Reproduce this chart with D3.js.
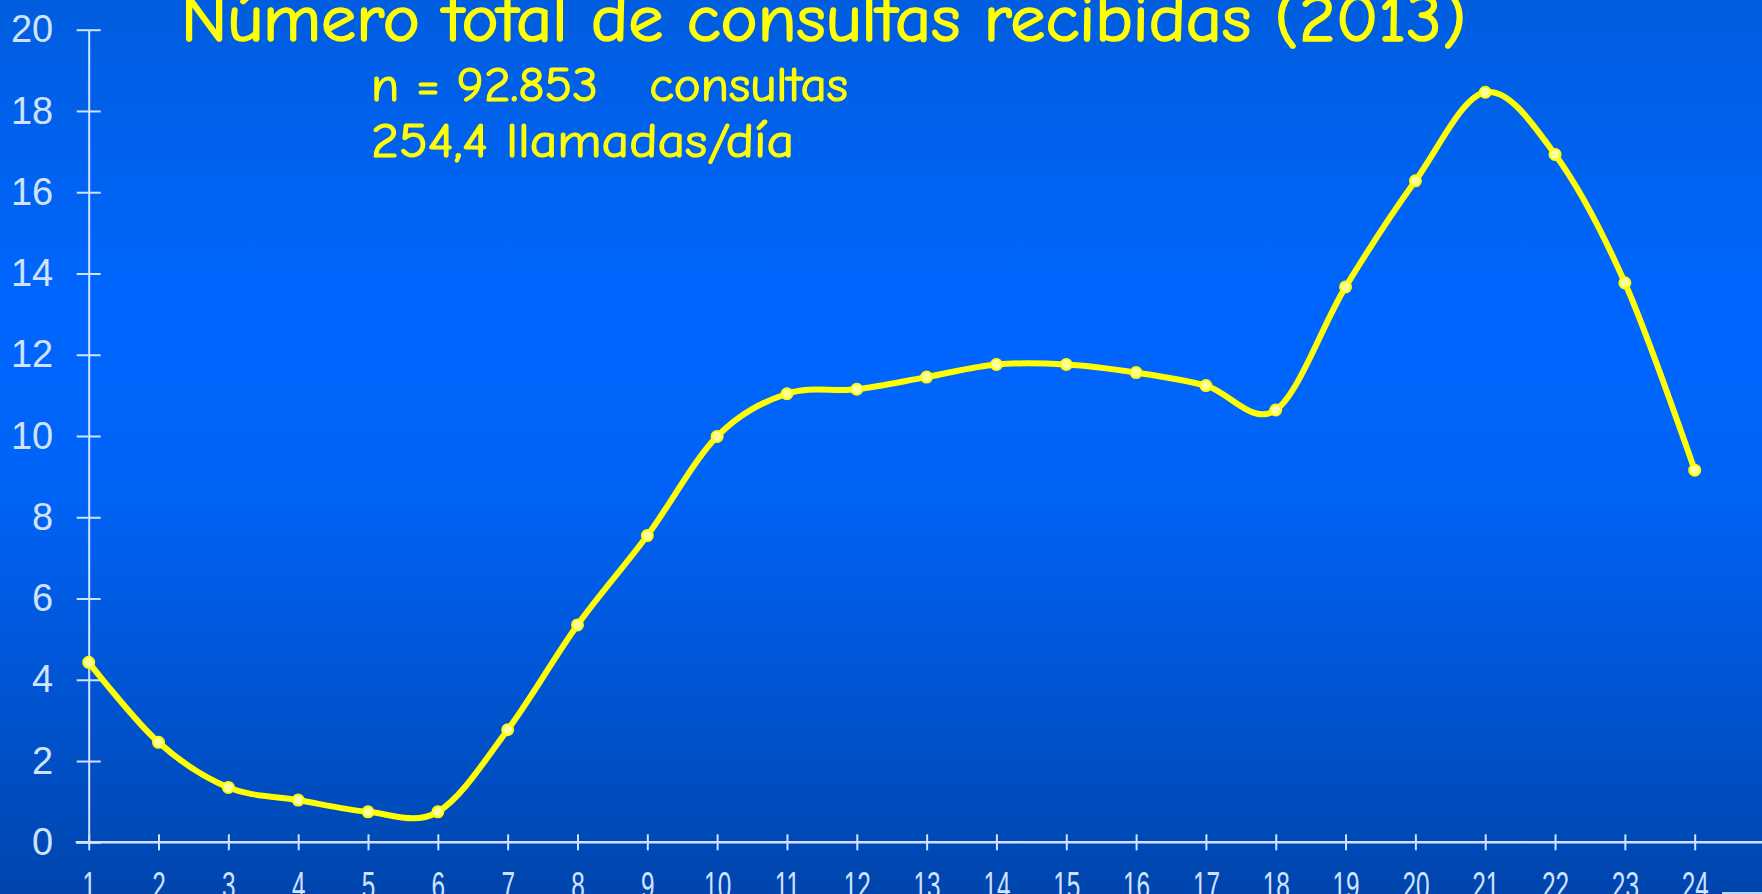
<!DOCTYPE html>
<html>
<head>
<meta charset="utf-8">
<script src="https://cdn.jsdelivr.net/npm/d3@7"></script>
<style>
  html, body { margin: 0; padding: 0; overflow: hidden; }
  svg { display: block; }
</style>
</head>
<body>
<svg id="chart"></svg>
<script>
const width = 1762;
const height = 894;

// hours of the day and share of calls (%)
const hours = d3.range(1, 25);
const consultas = [4.43, 2.46, 1.35, 1.04, 0.75, 0.75, 2.77, 5.35, 7.55, 9.99, 11.04, 11.15,
	11.45, 11.76, 11.76, 11.56, 11.24, 10.64, 13.67, 16.28, 18.46, 16.93, 13.77, 9.16];
const yTicks = [0, 2, 4, 6, 8, 10, 12, 14, 16, 18, 20];

const title = 'Número total de consultas recibidas (2013)';
const subtitle1 = 'n = 92.853   consultas';
const subtitle2 = '254,4 llamadas/día';

const svg = d3.select('#chart').attr('width', width).attr('height', height);

// background
const defs = svg.append('defs');
const grad = defs.append('linearGradient')
	.attr('id', 'bg')
	.attr('x1', 0).attr('y1', 0).attr('x2', 0).attr('y2', 1);
grad.append('stop').attr('offset', '0%').attr('stop-color', '#005ddf');
grad.append('stop').attr('offset', '35%').attr('stop-color', '#0066ff');
grad.append('stop').attr('offset', '55%').attr('stop-color', '#0063f6');
grad.append('stop').attr('offset', '100%').attr('stop-color', '#0045ad');
svg.append('rect').attr('width', width).attr('height', height).attr('fill', 'url(#bg)');

const x = d3.scaleLinear().domain([1, 24]).range([88.7, 1694.7]);
const y = d3.scaleLinear().domain([0, 20]).range([842.3, 29.7]);

const axisColor = '#cfe3ff';

// y axis
const yAxis = svg.append('g')
	.attr('transform', `translate(${x(1)},0)`)
	.call(d3.axisLeft(y).tickValues(yTicks).tickSize(12).tickSizeOuter(0));
yAxis.select('.domain').attr('stroke', axisColor).attr('stroke-width', 2);
yAxis.selectAll('.tick line').attr('x1', -12).attr('x2', 12)
	.attr('stroke', axisColor).attr('stroke-width', 2);
yAxis.selectAll('.tick text')
	.attr('x', -35.5)
	.attr('fill', axisColor)
	.attr('font-family', 'Arial, "Liberation Sans", sans-serif')
	.attr('font-size', 38);

// x axis
const xAxis = svg.append('g')
	.attr('transform', `translate(0,${y(0)})`)
	.call(d3.axisBottom(x).tickValues(hours).tickFormat(d3.format('d')).tickSize(8).tickSizeOuter(0));
xAxis.select('.domain').remove();
xAxis.insert('line', ':first-child')
	.attr('x1', x(1) - 13).attr('x2', width)
	.attr('stroke', axisColor).attr('stroke-width', 2.5);
xAxis.selectAll('.tick line').attr('y1', -8).attr('y2', 8)
	.attr('stroke', axisColor).attr('stroke-width', 2);
xAxis.selectAll('.tick text')
	.attr('y', 57).attr('dy', 0)
	.attr('transform', 'scale(0.64,1)')
	.attr('fill', axisColor)
	.attr('font-family', 'Arial, "Liberation Sans", sans-serif')
	.attr('font-size', 38);

svg.append('rect')
	.attr('x', 1722).attr('y', 892).attr('width', 40).attr('height', 2)
	.attr('fill', '#bcd8f6');

// line
const line = d3.line()
	.x((d, i) => x(hours[i]))
	.y((d) => y(d))
	.curve(d3.curveCardinal.tension(0));

svg.append('path')
	.datum(consultas)
	.attr('d', line)
	.attr('fill', 'none')
	.attr('stroke', '#ffff00')
	.attr('stroke-width', 6)
	.attr('stroke-linejoin', 'round');

svg.selectAll('.dot')
	.data(consultas)
	.enter()
	.append('circle')
	.attr('class', 'dot')
	.attr('cx', (d, i) => x(hours[i]))
	.attr('cy', (d) => y(d))
	.attr('r', 5.5)
	.attr('fill', '#ffffa0')
	.attr('stroke', '#ffff00')
	.attr('stroke-width', 2);

// titles
const comic = '"Comic Sans MS", "Comic Neue", Lato, sans-serif';
svg.append('text')
	.attr('x', 181).attr('y', 41)
	.attr('textLength', 1285).attr('lengthAdjust', 'spacingAndGlyphs')
	.attr('fill', '#ffff00')
	.attr('stroke', '#ffff00').attr('stroke-width', 1.6)
	.attr('font-family', comic)
	.attr('font-size', 66)
	.text(title);

svg.append('text')
	.attr('x', 371).attr('y', 101)
	.attr('textLength', 477).attr('lengthAdjust', 'spacingAndGlyphs')
	.style('white-space', 'pre')
	.attr('fill', '#ffff00')
	.attr('stroke', '#ffff00').attr('stroke-width', 1.2)
	.attr('font-family', comic)
	.attr('font-size', 49)
	.text(subtitle1);

svg.append('text')
	.attr('x', 371).attr('y', 157)
	.attr('textLength', 423).attr('lengthAdjust', 'spacingAndGlyphs')
	.attr('fill', '#ffff00')
	.attr('stroke', '#ffff00').attr('stroke-width', 1.2)
	.attr('font-family', comic)
	.attr('font-size', 49)
	.text(subtitle2);
</script>
</body>
</html>
